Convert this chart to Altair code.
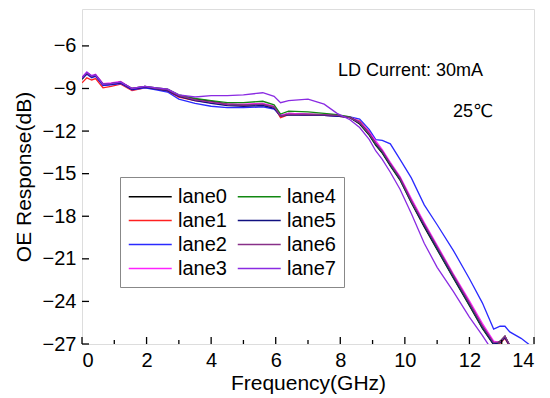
import altair as alt
import pandas as pd

FONT = "Liberation Sans, Arial, DejaVu Sans"

freq = [0.0, 0.15, 0.3, 0.42, 0.65, 0.9, 1.2, 1.55, 1.95, 2.3, 2.65, 3.0, 3.5, 4.0,
        4.5, 5.0, 5.6, 5.95, 6.15, 6.4, 7.0, 7.5, 7.9, 8.3, 8.6, 8.9, 9.1, 9.3, 9.55,
        9.85, 10.2, 10.6, 11.0, 11.5, 12.0, 12.4, 12.75, 12.95, 13.1, 13.25, 13.6, 14.0]

lane0 = [-8.35, -7.95, -8.2, -8.1, -8.75, -8.7, -8.6, -9.05, -8.9, -9.0, -9.1, -9.5, -9.75, -9.9,
         -10.1, -10.15, -10.1, -10.3, -10.95, -10.75, -10.8, -10.85, -10.9, -11.05, -11.5, -12.3,
         -13.0, -13.55, -14.45, -15.45, -17.05, -18.75, -20.35, -22.35, -24.3, -25.9, -27.05,
         -26.8, -26.45, -27.1, -28.5, -30.0]
lane1 = [-8.6, -8.25, -8.4, -8.3, -8.95, -8.85, -8.7, -9.15, -8.95, -9.05, -9.2, -9.6, -9.85, -10.0,
         -10.15, -10.15, -10.1, -10.3, -11.05, -10.85, -10.85, -10.9, -10.95, -11.05, -11.3, -12.05,
         -12.8, -13.4, -14.3, -15.3, -16.9, -18.6, -20.2, -22.2, -24.1, -25.7, -26.9,
         -26.95, -26.6, -27.2, -28.5, -30.0]
lane2 = [-8.3, -8.0, -8.25, -8.15, -8.8, -8.75, -8.65, -9.1, -8.95, -9.1, -9.25, -9.75, -10.05, -10.25,
         -10.35, -10.35, -10.3, -10.45, -10.9, -10.8, -10.85, -10.9, -10.95, -11.0, -11.15, -11.9,
         -12.6, -12.65, -12.9, -14.0, -15.3, -17.2, -18.6, -20.4, -22.4, -24.1, -25.95,
         -25.75, -25.75, -26.15, -26.6, -27.3]
lane3 = [-8.2, -7.85, -8.1, -8.0, -8.65, -8.6, -8.5, -9.0, -8.85, -8.95, -9.05, -9.5, -9.8, -10.0,
         -10.1, -10.1, -10.05, -10.25, -10.9, -10.75, -10.8, -10.85, -10.9, -11.0, -11.35, -12.1,
         -12.7, -13.3, -14.2, -15.2, -16.75, -18.45, -20.05, -22.05, -23.95, -25.55, -26.8,
         -26.9, -26.5, -27.1, -28.5, -30.0]
lane4 = [-8.3, -7.9, -8.15, -8.05, -8.7, -8.65, -8.55, -9.0, -8.85, -8.95, -9.05, -9.45, -9.7, -9.85,
         -10.0, -10.0, -9.9, -10.15, -10.8, -10.6, -10.65, -10.75, -10.85, -11.0, -11.45, -12.25,
         -12.95, -13.5, -14.4, -15.4, -17.0, -18.65, -20.3, -22.3, -24.25, -25.85, -27.0,
         -26.85, -26.5, -27.1, -28.5, -30.0]
lane5 = [-8.3, -7.95, -8.2, -8.1, -8.75, -8.7, -8.6, -9.05, -8.9, -9.05, -9.15, -9.55, -9.85, -10.05,
         -10.2, -10.25, -10.2, -10.4, -10.95, -10.85, -10.9, -10.9, -10.95, -11.05, -11.4, -12.2,
         -12.9, -13.45, -14.35, -15.35, -16.95, -18.65, -20.25, -22.25, -24.2, -25.8, -27.0,
         -26.9, -26.55, -27.15, -28.5, -30.0]
lane6 = [-8.25, -7.9, -8.15, -8.05, -8.7, -8.65, -8.55, -9.0, -8.85, -9.0, -9.1, -9.5, -9.8, -9.95,
         -10.1, -10.15, -10.1, -10.3, -10.95, -10.8, -10.85, -10.85, -10.9, -11.05, -11.4, -12.2,
         -12.85, -13.4, -14.3, -15.3, -16.9, -18.55, -20.15, -22.15, -24.1, -25.7, -26.9,
         -26.85, -26.45, -27.1, -28.5, -30.0]
lane7 = [-8.25, -7.85, -8.1, -8.05, -8.7, -8.65, -8.55, -9.0, -8.85, -8.95, -9.05, -9.45, -9.6, -9.5,
         -9.5, -9.45, -9.3, -9.55, -10.0, -9.85, -9.75, -10.1, -10.75, -11.2, -11.75, -12.6,
         -13.4, -14.0, -14.9, -16.1, -17.8, -19.9, -21.6, -23.3, -25.1, -26.4, -27.6,
         -28.4, -29.0, -29.5, -30.0, -31.0]

lane_names = ["lane0", "lane1", "lane2", "lane3", "lane4", "lane5", "lane6", "lane7"]
lane_values = [lane0, lane1, lane2, lane3, lane4, lane5, lane6, lane7]
lane_colors = ["#000000", "#ff2020", "#2a2aff", "#ff22ff", "#118811", "#101080", "#883088", "#8a2be2"]

x_major = [0, 2, 4, 6, 8, 10, 12, 14]
x_minor = [1, 3, 5, 7, 9, 11, 13]
y_ticks = [-6, -9, -12, -15, -18, -21, -24, -27]

W, H = 452, 335

rows = []
for name, vals in zip(lane_names, lane_values):
    for i, (f, v) in enumerate(zip(freq, vals)):
        rows.append({"lane": name, "freq": f, "resp": v, "order": i})
df = pd.DataFrame(rows)

xscale = alt.Scale(domain=[0, 14], nice=False, zero=False)
yscale = alt.Scale(domain=[-27, -3.4], nice=False, zero=False)

xaxis = alt.Axis(values=x_major, ticks=False, domain=False,
                 grid=False, labelFontSize=20, labelFont=FONT, labelPadding=6,
                 titleFontSize=21, titleFont=FONT, titleFontWeight="normal",
                 titlePadding=2, titleColor="#000", labelColor="#000")
yaxis = alt.Axis(values=y_ticks, ticks=False, domain=False,
                 grid=False, labelFontSize=20, labelFont=FONT, labelPadding=6,
                 titleFontSize=21, titleFont=FONT, titleFontWeight="normal",
                 titlePadding=8, titleColor="#000", labelColor="#000")
XT = "Frequency(GHz)"
YT = "OE Response(dB)"

lines = alt.Chart(df).mark_line(strokeWidth=1.3, clip=True).encode(
    x=alt.X("freq:Q", scale=xscale, axis=xaxis, title=XT),
    y=alt.Y("resp:Q", scale=yscale, axis=yaxis, title=YT),
    color=alt.Color("lane:N", title=None,
                    scale=alt.Scale(domain=lane_names, range=lane_colors),
                    legend=alt.Legend(orient="none", legendX=38, legendY=168, columns=2,
                                      symbolType="M-1,0L3,0", symbolSize=462, symbolStrokeWidth=1.5,
                                      labelFontSize=20, labelFont=FONT, labelColor="#000",
                                      labelOffset=27, columnPadding=7, rowPadding=2,
                                      padding=8, strokeColor="#888888", fillColor="#ffffff")),
    order="order:Q",
)

xmaj_df = pd.DataFrame({"t": x_major})
xmin_df = pd.DataFrame({"t": x_minor})
y_df = pd.DataFrame({"t": y_ticks})

xmaj = alt.Chart(xmaj_df).mark_rule(color="#000", strokeWidth=1.3).encode(
    x=alt.X("t:Q", scale=xscale, axis=xaxis, title=XT), y=alt.value(H), y2=alt.value(H - 7))
xmin = alt.Chart(xmin_df).mark_rule(color="#000", strokeWidth=1.3).encode(
    x=alt.X("t:Q", scale=xscale, axis=xaxis, title=XT), y=alt.value(H), y2=alt.value(H - 4))
yt = alt.Chart(y_df).mark_rule(color="#000", strokeWidth=1.3).encode(
    y=alt.Y("t:Q", scale=yscale, axis=yaxis, title=YT), x=alt.value(0), x2=alt.value(7))

ann_df = pd.DataFrame({"f": [7.93, 11.49], "v": [-7.76, -10.66], "txt": ["LD Current: 30mA", "25℃"]})
ann = alt.Chart(ann_df).mark_text(align="left", baseline="middle", fontSize=18, font=FONT,
                                  color="#000").encode(
    x=alt.X("f:Q", scale=xscale, axis=xaxis, title=XT),
    y=alt.Y("v:Q", scale=yscale, axis=yaxis, title=YT), text="txt:N")

chart = alt.layer(lines, xmaj, xmin, yt, ann).properties(
    width=W, height=H,
    autosize=alt.AutoSizeParams(type="none"),
    padding={"left": 82, "top": 9, "right": 16, "bottom": 54},
).configure_view(stroke="#000", strokeWidth=1.5).configure(background="#ffffff")

chart.save("out.html", embed_options={"renderer": "svg", "actions": False})
